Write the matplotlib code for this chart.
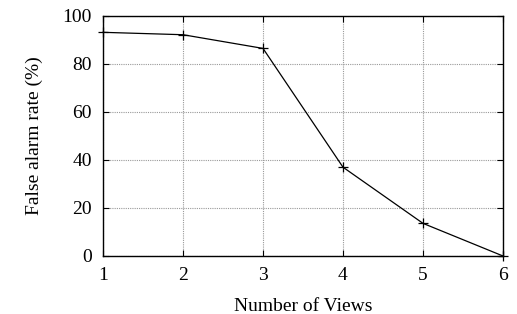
import matplotlib
matplotlib.use("Agg")
import matplotlib.pyplot as plt

views = [1, 2, 3, 4, 5, 6]
false_alarm = [93.2, 92.2, 86.5, 37, 13.6, 0]
xticks = [1, 2, 3, 4, 5, 6]
yticks = [0, 20, 40, 60, 80, 100]

plt.rcParams['font.family'] = ['Liberation Serif', 'DejaVu Serif']
plt.rcParams['font.size'] = 14

fig = plt.figure(figsize=(5.17, 3.14), dpi=100)
ax = fig.add_axes([103/517, 1 - 256/314, 400/517, 240/314])
ax.plot(views, false_alarm, color='black', lw=0.9, marker='+', ms=7, mew=0.9, clip_on=False, zorder=3)
ax.set_xlim(1, 6)
ax.set_ylim(0, 100)
ax.set_xticks(xticks)
ax.set_yticks(yticks)
ax.grid(True, color='#999999', linestyle=(0, (1, 1)), lw=0.8)
ax.tick_params(direction='in', top=True, right=True, length=4, width=0.8, pad=8)
for s in ax.spines.values():
    s.set_linewidth(1.0)
ax.set_xlabel('Number of Views', labelpad=10)
ax.set_ylabel('False alarm rate (%)', labelpad=14)
fig.savefig('out.png', dpi=100)
